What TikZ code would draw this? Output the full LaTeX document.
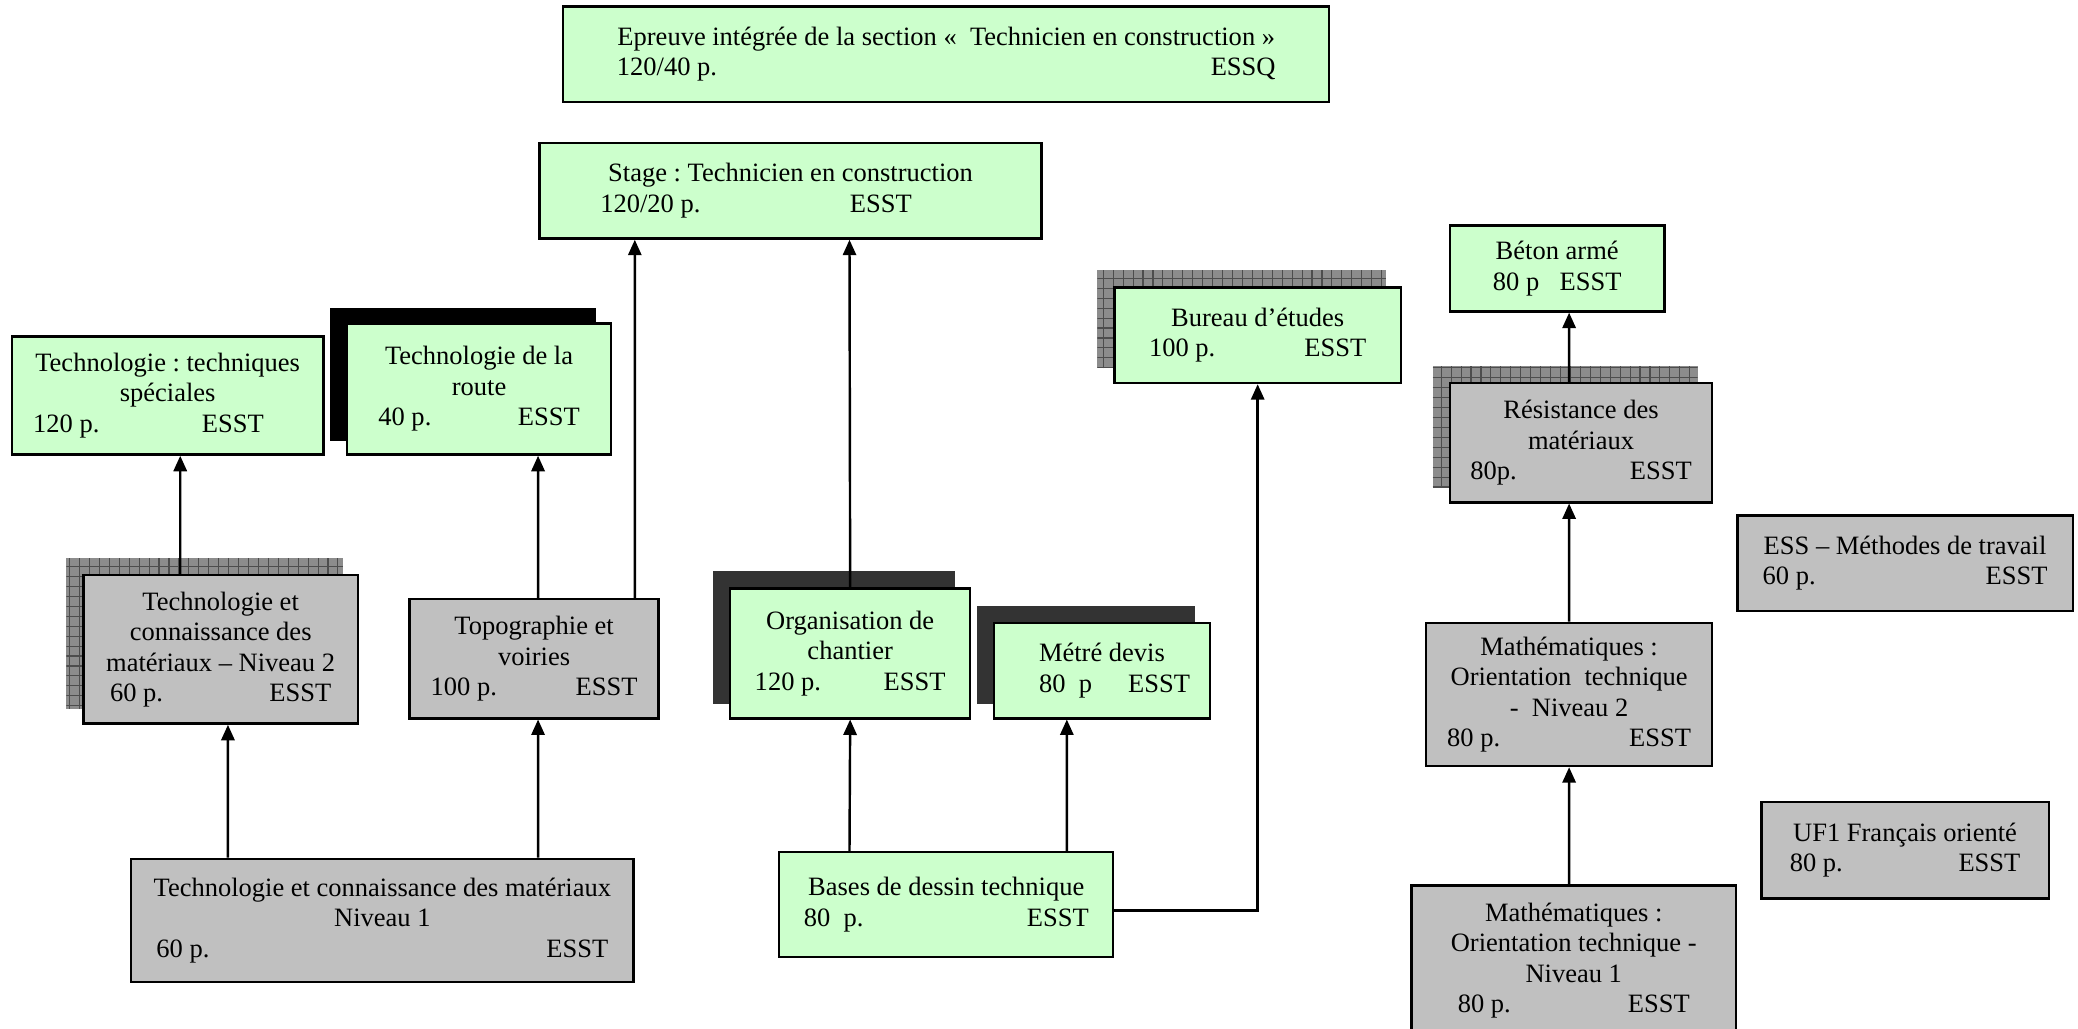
\documentclass[tikz,border=0pt]{standalone}
\usepackage{fontspec}
\setmainfont{Liberation Serif}
\usetikzlibrary{arrows.meta,backgrounds}
\frenchspacing

\definecolor{vert}{HTML}{CCFFCC}
\definecolor{gris}{HTML}{C0C0C0}
\definecolor{sombre}{HTML}{333333}
\definecolor{grille}{HTML}{8C8C8C}
\definecolor{grillefine}{HTML}{4D4D4D}

% last line of a box: hours on the left, school on the right
\newcommand{\pline}[3]{\makebox[#1]{#2\hfill #3}}

\begin{document}
\begin{tikzpicture}[x=0.6pt, y=-0.6pt, line width=1.1pt,
    font=\fontsize{12pt}{13.8pt}\selectfont,
    main/.style = {draw, rectangle, align=center, inner sep=1pt},
    lgreen/.style = {main, fill=vert},
    lgray/.style = {main, fill=gris},
    arr/.style = {-{Triangle[length=7pt,width=6pt]}},
    blackshd/.style = {fill=black},
    darkshd/.style = {fill=sombre},
    gridshd/.style = {fill=grille, path picture={\draw[grillefine, line width=0.5pt, step=4.5pt] (path picture bounding box.south west) grid (path picture bounding box.north east);}}]
	\useasboundingbox (0,0) rectangle (1568,776);
	\clip (0,0) rectangle (1568,776);

	\node[lgreen, minimum width=346.8pt, minimum height=43.2pt] (1) at (714,41) {Epreuve intégrée de la section «~ Technicien en construction »\\ \pline{298.2pt}{120/40 p.}{ESSQ}};
	\node[lgreen, minimum width=227.4pt, minimum height=43.2pt] (2) at (596.5,144) {Stage : Technicien en construction\\ \hspace*{-31.2pt}\pline{141pt}{120/20 p.}{ESST}};
	\node[lgreen, minimum width=141pt, minimum height=53.4pt] (3) at (126.5,298.5) {Technologie : techniques\\ spéciales\\ \hspace*{-17.4pt}\pline{104.4pt}{120 p.}{ESST}};
	\node[lgreen, minimum width=119.4pt, minimum height=59.4pt] (4) at (361.5,293.5) {Technologie de la\\ route\\ \pline{91.2pt}{40 p.}{ESST}};
	\node[lgreen, minimum width=129.6pt, minimum height=43.2pt] (5) at (949,253) {Bureau d’études\\ \pline{98.4pt}{100 p.}{ESST}};
	\node[lgreen, minimum width=97.2pt, minimum height=39pt] (6) at (1175,202.5) {Béton armé\\ \pline{58.2pt}{80 p}{ESST}};
	\node[lgray, minimum width=118.8pt, minimum height=54pt] (7) at (1193,334) {Résistance des\\ matériaux\\ \pline{100.2pt}{80p.}{ESST}};
	\node[lgray, minimum width=151.8pt, minimum height=43.2pt] (8) at (1437.5,425) {ESS – Méthodes de travail\\ \pline{129pt}{60 p.}{ESST}};
	\node[lgray, minimum width=124.2pt, minimum height=67.2pt] (9) at (166.5,490) {Technologie et\\ connaissance des\\ matériaux – Niveau 2\\ \pline{100.2pt}{60 p.}{ESST}};
	\node[lgray, minimum width=112.8pt, minimum height=54pt] (10) at (403,497) {Topographie et\\ voiries\\ \pline{93.6pt}{100 p.}{ESST}};
	\node[lgreen, minimum width=108.6pt, minimum height=58.8pt] (11) at (641.5,493) {Organisation de\\ chantier\\ \pline{86.4pt}{120 p.}{ESST}};
	\node[lgreen, minimum width=97.8pt, minimum height=43.2pt] (12) at (831.5,506) {Métré devis\\ \hspace*{11.4pt}\pline{68.4pt}{80~ p}{ESST}};
	\node[lgray, minimum width=129.6pt, minimum height=64.8pt] (13) at (1184,524) {Mathématiques :\\ Orientation~ technique\\ -~ Niveau 2\\ \pline{110.4pt}{80 p.}{ESST}};
	\node[lgray, minimum width=130.2pt, minimum height=43.8pt] (14) at (1437.5,641.5) {UF1 Français orienté\\ \pline{104.4pt}{80 p.}{ESST}};
	\node[lgray, minimum width=227.4pt, minimum height=55.8pt] (15) at (288.5,694.5) {Technologie et connaissance des matériaux\\ Niveau 1\\ \pline{204.6pt}{60 p.}{ESST}};
	\node[lgreen, minimum width=151.2pt, minimum height=47.4pt] (16) at (714,682.5) {Bases de dessin technique\\ \pline{129pt}{80~ p.}{ESST}};
	\node[lgray, minimum width=147pt, minimum height=68.4pt] (17) at (1187.5,725) {Mathématiques :\\ Orientation technique -\\ Niveau 1\\ \pline{105pt}{80 p.}{ESST}};

	% shadows behind some boxes
	\begin{scope}[on background layer]
		\fill[blackshd] ([shift={(-12,-11)}]4.north west) rectangle ([shift={(-12,-11)}]4.south east);
		\path[gridshd] ([shift={(-12,-12)}]5.north west) rectangle ([shift={(-12,-12)}]5.south east);
		\path[gridshd] ([shift={(-12,-12)}]7.north west) rectangle ([shift={(-12,-12)}]7.south east);
		\path[gridshd] ([shift={(-12,-12)}]9.north west) rectangle ([shift={(-12,-12)}]9.south east);
		\fill[darkshd] ([shift={(-12,-12)}]11.north west) rectangle ([shift={(-12,-12)}]11.south east);
		\fill[darkshd] ([shift={(-12,-12)}]12.north west) rectangle ([shift={(-12,-12)}]12.south east);
	\end{scope}

	\draw[arr] ([xshift=-18.3pt]9.north) -- ([xshift=5.7pt]3.south);
	\draw[arr] ([xshift=1.8pt]10.north) -- ([xshift=26.7pt]4.south);
	\draw[arr] ([xshift=45.6pt]10.north) -- ([xshift=-70.5pt]2.south);
	\draw[arr] (11.north) -- ([xshift=26.7pt]2.south);
	\draw[arr] ([xshift=-69.9pt]15.north) -- ([xshift=3.3pt]9.south);
	\draw[arr] ([xshift=70.5pt]15.north) -- ([xshift=1.8pt]10.south);
	\draw[arr] ([xshift=-43.8pt]16.north) -- (11.south);
	\draw[arr] ([xshift=54.6pt]16.north) -- ([xshift=-15.9pt]12.south);
	\draw[arr] ([yshift=-2.7pt]16.east) -| (5.south);
	\draw[arr] ([xshift=-5.4pt]7.north) -- ([xshift=5.4pt]6.south);
	\draw[arr] (13.north) -- ([xshift=-5.4pt]7.south);
	\draw[arr] ([xshift=-2.1pt]17.north) -- (13.south);
\end{tikzpicture}
\end{document}
